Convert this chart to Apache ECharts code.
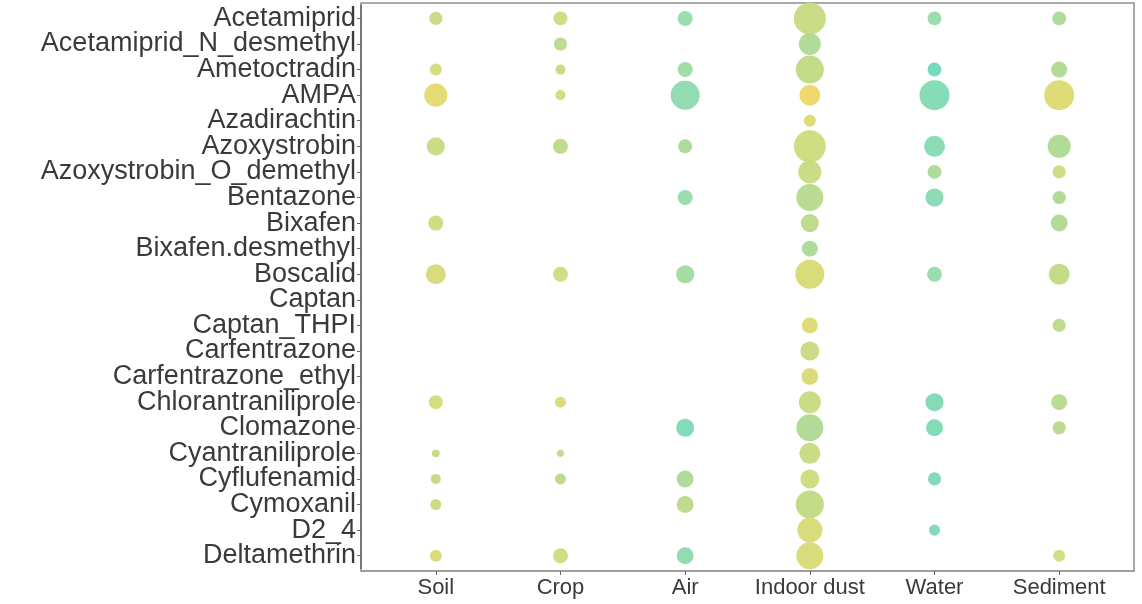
<!DOCTYPE html>
<html>
<head>
<meta charset="utf-8">
<script src="https://cdn.jsdelivr.net/npm/echarts@6/dist/echarts.min.js"></script>
<style>html,body{margin:0;padding:0;background:#fff}#c{width:1142px;height:604px}</style>
</head>
<body>
<div id="c"></div>
<script>
const pesticides = ["Acetamiprid","Acetamiprid_N_desmethyl","Ametoctradin","AMPA","Azadirachtin","Azoxystrobin","Azoxystrobin_O_demethyl","Bentazone","Bixafen","Bixafen.desmethyl","Boscalid","Captan","Captan_THPI","Carfentrazone","Carfentrazone_ethyl","Chlorantraniliprole","Clomazone","Cyantraniliprole","Cyflufenamid","Cymoxanil","D2_4","Deltamethrin"];
const compartments = ["Soil","Crop","Air","Indoor dust","Water","Sediment"];

// relative abundance (bubble area), null = not detected
const soilSize = [17,null,14,52,null,32,null,null,22,null,39,null,null,null,null,19,null,6,10,12,null,14];
const cropSize = [19,17,10,10,null,22,null,null,null,null,22,null,null,null,null,12,null,5,12,null,null,22];
const airSize = [22,null,22,82,null,19,null,22,null,null,32,null,null,null,null,null,32,null,28,28,null,28];
const dustSize = [100,47,77,43,14,100,52,71,32,25,82,null,25,35,28,47,71,43,35,77,61,71];
const waterSize = [19,null,19,88,null,43,19,32,null,null,22,null,null,null,null,32,28,null,17,null,12,null];
const sedimentSize = [19,null,25,88,null,52,17,17,28,null,43,null,17,null,null,25,17,null,null,null,null,14];

// colour scale value (0 = yellow, 1 = teal)
const soilTone = [0.35,null,0.25,0.1,null,0.35,null,null,0.3,null,0.2,null,null,null,null,0.25,null,0.4,0.4,0.35,null,0.2];
const cropTone = [0.3,0.45,0.35,0.25,null,0.45,null,null,null,null,0.3,null,null,null,null,0.2,null,0.4,0.45,null,null,0.3];
const airTone = [0.75,null,0.7,0.8,null,0.6,null,0.75,null,null,0.65,null,null,null,null,null,0.9,null,0.6,0.45,null,0.8];
const dustTone = [0.35,0.55,0.4,0.0,0.15,0.3,0.35,0.5,0.45,0.6,0.2,null,0.15,0.35,0.2,0.35,0.55,0.35,0.3,0.4,0.2,0.2];
const waterTone = [0.75,null,1.0,0.88,null,0.85,0.6,0.85,null,null,0.75,null,null,null,null,0.9,0.9,null,0.9,null,0.9,null];
const sedimentTone = [0.6,null,0.55,0.15,null,0.55,0.3,0.55,0.55,null,0.4,null,0.45,null,null,0.5,0.5,null,null,null,null,0.25];

const sizeCols = [soilSize,cropSize,airSize,dustSize,waterSize,sedimentSize];
const toneCols = [soilTone,cropTone,airTone,dustTone,waterTone,sedimentTone];

const data = [];
sizeCols.forEach((col, ci) => {
  col.forEach((v, ri) => {
    if (v != null) data.push([ci, pesticides[ri], v, toneCols[ci][ri]]);
  });
});

const idx = (n) => Array.from({length:n}, (_, i) => i);
const FONT = 'Liberation Sans, Arial, sans-serif';

const chart = echarts.init(document.getElementById('c'), null, {renderer:'canvas'});
chart.setOption({
  animation:false,
  backgroundColor:'#fff',
  grid:[
    {left:361, right:8, top:3, bottom:33, show:true, borderColor:'#8f8f8f', borderWidth:1.5, backgroundColor:'transparent'},
    {left:361, right:8, top:5.6, bottom:35.5, show:false}
  ],
  xAxis:[{
    gridIndex:0, type:'value', min:-0.6, max:5.6,
    splitLine:{show:false},
    axisLine:{show:true, onZero:false, lineStyle:{color:'#9a9a9a', width:1.5}},
    axisTick:{show:true, customValues:idx(6), length:4, lineStyle:{color:'#666'}},
    axisLabel:{customValues:idx(6), formatter:(v)=>compartments[Math.round(v)], fontSize:22, color:'#3a3a3a', fontFamily:FONT, margin:6, showMinLabel:true, showMaxLabel:true}
  },{
    gridIndex:1, type:'value', min:-0.6, max:5.6, show:false
  }],
  yAxis:[{
    gridIndex:0, type:'value', min:0, max:1, show:false
  },{
    gridIndex:1, type:'category', data:pesticides, inverse:true, boundaryGap:true,
    splitLine:{show:false},
    axisLine:{show:true, onZero:false, lineStyle:{color:'#666', width:1.5}},
    axisTick:{show:true, alignWithLabel:true, interval:0, length:4, lineStyle:{color:'#666'}},
    axisLabel:{interval:0, fontSize:27, color:'#3a3a3a', fontFamily:FONT, margin:5, hideOverlap:false}
  }],
  visualMap:{
    show:false, type:'continuous', dimension:3, min:0, max:1,
    inRange:{color:['#eed765','#d2db78','#b6d98c','#95dbaa','#6fd8bb']}
  },
  series:[{
    type:'scatter',
    xAxisIndex:1, yAxisIndex:1,
    data:data,
    symbolSize:(v)=>3.2*Math.sqrt(v[2]),
    itemStyle:{opacity:0.95}
  }]
});
</script>
</body>
</html>
